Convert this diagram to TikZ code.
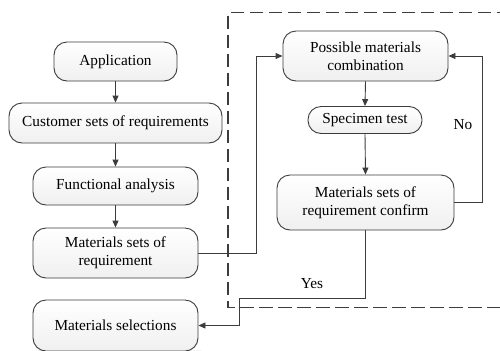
\documentclass[tikz,border=0pt]{standalone}
\usepackage{fontspec}
\setmainfont{Liberation Serif}
\usetikzlibrary{arrows.meta,backgrounds}
\definecolor{ink}{HTML}{3C3C3C}
\definecolor{shade}{HTML}{D4D4D4}
\tikzset{
  box/.style={draw=ink, line width=0.9bp, rounded corners=13bp,
    top color=white, bottom color=gray!12, inner sep=0pt, align=center,
    font=\fontsize{15.3bp}{17.7bp}\selectfont},
  link/.style={draw=ink, line width=0.9bp},
  arr/.style={link, -{Triangle[length=7bp,width=6bp]}},
  lbl/.style={font=\fontsize{15.3bp}{17.7bp}\selectfont, inner sep=0pt},
  frame/.style={draw=ink, line width=1.9bp, dash pattern=on 13.5bp off 5.5bp}
}
\begin{document}
\begin{tikzpicture}[x=1bp,y=-1bp]
\useasboundingbox[fill=white] (0,0) rectangle (500,350);

% left column
\node[box, minimum width=123bp, minimum height=39bp] (app)  at (115.5,61.5) {Application};
\node[box, minimum width=213bp, minimum height=40bp] (cust) at (115.5,123)  {Customer sets of requirements};
\node[box, minimum width=165bp, minimum height=38bp] (func) at (115.5,186)  {Functional analysis};
\node[box, minimum width=165bp, minimum height=50bp] (req)  at (115.5,253)  {Materials sets of\\requirement};
\node[box, minimum width=165bp, minimum height=51bp] (sel)  at (115.5,325.5) {Materials selections};

% right column
\node[box, minimum width=165bp, minimum height=50bp] (comb) at (365.5,56)  {Possible materials\\combination};
\node[box, minimum width=114bp, minimum height=27bp] (spec) at (365,120)   {Specimen test};
\node[box, minimum width=177bp, minimum height=55bp] (conf) at (365.5,202.5) {Materials sets of\\requirement confirm};

% flat shadows behind the boxes
\begin{scope}[on background layer]
  \foreach \n in {app,cust,func,req,sel,comb,spec,conf}
    \fill[shade] ([shift={(3,3)}]\n.north west) rectangle ([shift={(3,3)}]\n.south east);
\end{scope}

% dashed frame round the test loop
\draw[frame] (510,12.5) -- (228,12.5) -- (228,307.5) -- (510,307.5);

% connectors
\draw[arr] (app.south)  -- (cust.north);
\draw[arr] (cust.south) -- (func.north);
\draw[arr] (func.south) -- (req.north);
\draw[arr] (comb.south) -- (spec.north);
\draw[arr] (spec.south) -- (conf.north);
\draw[arr] (req.east) -- ++(58,0) |- (comb.west);
\draw[arr] (conf.east) -- ++(28,0) |- (comb.east);
\coordinate (yesbend) at (239,298);
\draw[arr] (conf.south) |- (yesbend) |- (sel.east);

\node[lbl] (no)  at (463,125) {No};
\node[lbl] (yes) at (312,284) {Yes};
\end{tikzpicture}
\end{document}
